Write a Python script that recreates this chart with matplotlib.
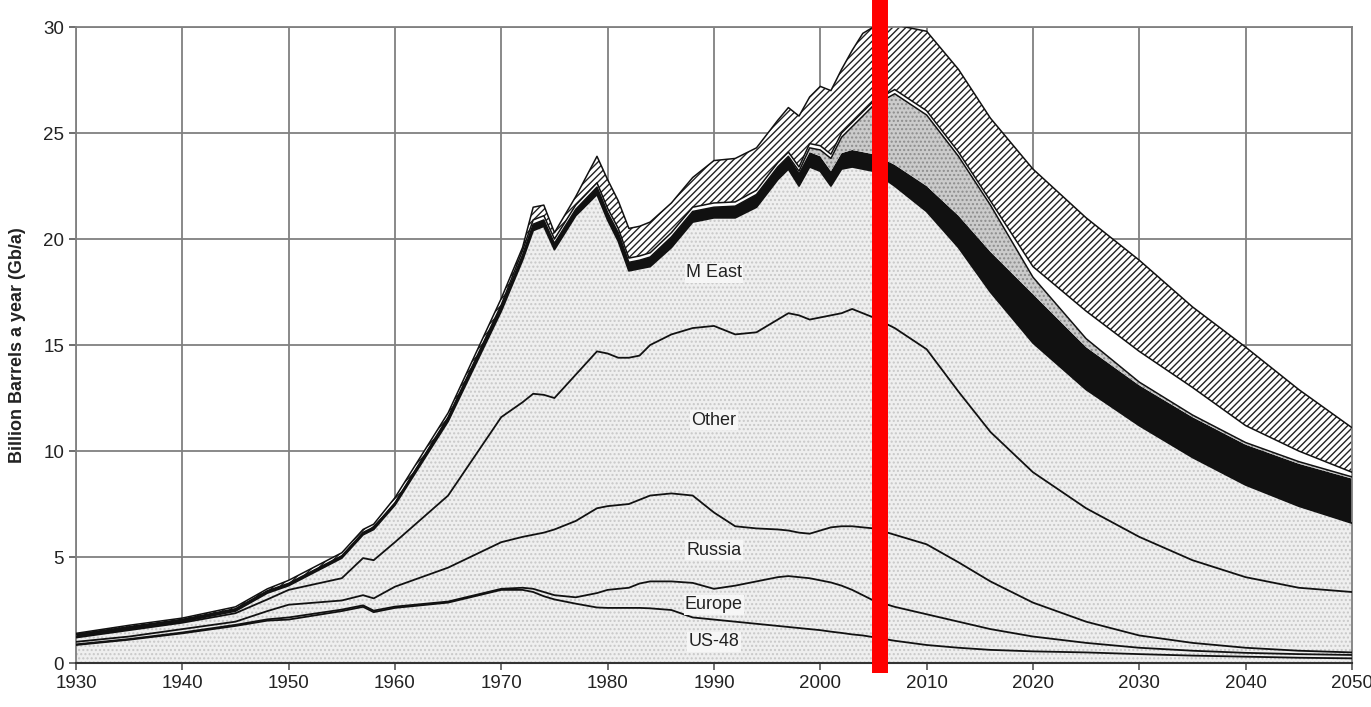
import matplotlib.pyplot as plt

plt.rcParams['font.family'] = ['Liberation Sans', 'DejaVu Sans']
plt.rcParams['hatch.linewidth'] = 1.0

# years
years = [1930, 1935, 1940, 1945, 1948, 1950, 1955, 1957, 1958, 1960,
         1965, 1970, 1972, 1973, 1974, 1975, 1977, 1979, 1980, 1981,
         1982, 1983, 1984, 1986, 1988, 1990, 1992, 1994, 1996, 1997,
         1998, 1999, 2000, 2001, 2002, 2003, 2004, 2005, 2007, 2010,
         2013, 2016, 2020, 2025, 2030, 2035, 2040, 2045, 2050]

# cumulative tops of each stacked layer (Gb/a)
us48_top = [0.85, 1.10, 1.40, 1.75, 2.00, 2.05, 2.45, 2.65, 2.40, 2.60,
            2.85, 3.45, 3.45, 3.35, 3.15, 3.00, 2.80, 2.62, 2.60, 2.60,
            2.60, 2.60, 2.58, 2.50, 2.15, 2.05, 1.95, 1.85, 1.75, 1.70,
            1.65, 1.60, 1.55, 1.48, 1.42, 1.35, 1.30, 1.22, 1.05, 0.85,
            0.72, 0.62, 0.55, 0.50, 0.42, 0.35, 0.30, 0.25, 0.22]
europe_top = [0.88, 1.13, 1.44, 1.80, 2.06, 2.15, 2.52, 2.72, 2.47, 2.66,
              2.90, 3.50, 3.55, 3.50, 3.35, 3.20, 3.10, 3.30, 3.45, 3.50,
              3.55, 3.75, 3.85, 3.85, 3.78, 3.50, 3.65, 3.85, 4.05, 4.10,
              4.05, 4.00, 3.90, 3.80, 3.65, 3.45, 3.20, 2.95, 2.65, 2.30,
              1.95, 1.60, 1.25, 0.95, 0.72, 0.58, 0.48, 0.42, 0.38]
russia_top = [1.00, 1.25, 1.60, 1.95, 2.45, 2.75, 2.95, 3.20, 3.05, 3.60,
              4.50, 5.70, 5.95, 6.05, 6.15, 6.30, 6.70, 7.30, 7.40, 7.45,
              7.50, 7.70, 7.90, 8.00, 7.90, 7.10, 6.45, 6.35, 6.30, 6.25,
              6.15, 6.10, 6.25, 6.40, 6.45, 6.45, 6.40, 6.35, 6.05, 5.60,
              4.75, 3.85, 2.85, 1.95, 1.30, 0.95, 0.72, 0.58, 0.50]
other_top = [1.20, 1.55, 1.90, 2.35, 3.00, 3.45, 4.00, 4.95, 4.85, 5.70,
             7.90, 11.60, 12.30, 12.70, 12.65, 12.50, 13.60, 14.70, 14.60, 14.40,
             14.40, 14.50, 15.00, 15.50, 15.80, 15.90, 15.50, 15.60, 16.20, 16.50,
             16.40, 16.20, 16.30, 16.40, 16.50, 16.70, 16.50, 16.30, 15.80, 14.80,
             12.80, 10.90, 9.00, 7.30, 5.95, 4.85, 4.05, 3.55, 3.35]
mideast_top = [1.25, 1.60, 1.95, 2.45, 3.30, 3.65, 4.95, 6.05, 6.30, 7.45,
               11.40, 16.60, 19.00, 20.40, 20.60, 19.50, 21.10, 22.10, 20.90, 19.90,
               18.50, 18.60, 18.70, 19.60, 20.80, 21.00, 21.00, 21.50, 22.80, 23.30,
               22.50, 23.40, 23.20, 22.50, 23.30, 23.40, 23.30, 23.20, 22.50, 21.30,
               19.60, 17.50, 15.10, 12.90, 11.20, 9.70, 8.40, 7.40, 6.60]
heavy_top = [1.33, 1.68, 2.03, 2.53, 3.38, 3.73, 5.03, 6.13, 6.38, 7.53,
             11.55, 16.80, 19.25, 20.70, 20.90, 19.80, 21.40, 22.45, 21.25, 20.30,
             18.90, 19.00, 19.15, 20.10, 21.30, 21.50, 21.55, 22.10, 23.40, 23.90,
             23.15, 24.10, 23.90, 23.20, 24.05, 24.20, 24.10, 24.00, 23.50, 22.50,
             21.10, 19.40, 17.40, 14.90, 13.10, 11.60, 10.30, 9.40, 8.70]
deepwater_top = [1.33, 1.68, 2.03, 2.53, 3.38, 3.73, 5.03, 6.13, 6.38, 7.53,
                 11.55, 16.80, 19.25, 20.70, 20.90, 19.80, 21.40, 22.45, 21.25, 20.30,
                 18.90, 19.00, 19.15, 20.10, 21.30, 21.50, 21.55, 22.10, 23.40, 23.90,
                 23.20, 24.30, 24.20, 23.80, 24.80, 25.30, 25.80, 26.30, 26.85, 25.85,
                 23.90, 21.60, 18.20, 15.30, 13.25, 11.70, 10.40, 9.50, 8.78]
polar_top = [1.36, 1.71, 2.06, 2.56, 3.41, 3.76, 5.06, 6.16, 6.41, 7.56,
             11.60, 16.90, 19.45, 20.90, 21.10, 20.00, 21.60, 22.65, 21.45, 20.50,
             19.10, 19.20, 19.35, 20.30, 21.50, 21.70, 21.75, 22.30, 23.60, 24.10,
             23.40, 24.50, 24.40, 24.00, 25.00, 25.50, 26.00, 26.50, 27.05, 26.05,
             24.10, 21.80, 18.70, 16.60, 14.70, 13.00, 11.20, 10.00, 9.00]
total_top = [1.40, 1.78, 2.12, 2.65, 3.50, 3.90, 5.20, 6.30, 6.55, 7.80,
             11.80, 17.20, 19.60, 21.50, 21.60, 20.30, 22.00, 23.90, 22.80, 21.80,
             20.50, 20.60, 20.80, 21.70, 22.90, 23.70, 23.80, 24.30, 25.60, 26.20,
             25.80, 26.70, 27.20, 27.00, 28.00, 28.90, 29.70, 30.00, 30.10, 29.80,
             28.00, 25.70, 23.30, 21.00, 19.00, 16.80, 14.90, 12.90, 11.10]

labels = ['US-48', 'Europe', 'Russia', 'Other', 'M East']
label_pos = [(1990, 1.0), (1990, 2.74), (1990, 5.33), (1990, 11.45), (1990, 18.4)]
now_year = 2005.6

fig = plt.figure(figsize=(13.71, 7.07), dpi=100)
ax = fig.add_axes([0.0554, 0.0622, 0.9307, 0.8996])

zero = [0] * len(years)
# regular oil (dotted light grey)
ax.fill_between(years, zero, mideast_top, facecolor='#efefef', edgecolor='#c8c8c8',
                hatch='....', linewidth=0, zorder=2)
# heavy oil (black)
ax.fill_between(years, mideast_top, heavy_top, facecolor='#111111', linewidth=0, zorder=2)
# deepwater (grey)
ax.fill_between(years, heavy_top, deepwater_top, facecolor='#cbcbcb', edgecolor='#8c8c8c',
                hatch='....', linewidth=0, zorder=2)
# polar (white)
ax.fill_between(years, deepwater_top, polar_top, facecolor='white', linewidth=0, zorder=2)
# gas liquids (hatched)
ax.fill_between(years, polar_top, total_top, facecolor='white', edgecolor='#222222',
                hatch='/////', linewidth=0, zorder=2)

for top in [us48_top, europe_top, russia_top, other_top, mideast_top]:
    ax.plot(years, top, color='#111111', lw=1.3, zorder=3)
for top in [deepwater_top, polar_top, total_top]:
    ax.plot(years, top, color='#111111', lw=1.1, zorder=3)

for name, (x, y) in zip(labels, label_pos):
    ax.text(x, y, name, ha='center', va='center', fontsize=13, color='#222222', zorder=4,
            bbox=dict(facecolor='#f6f6f6', edgecolor='none', pad=1.0))

ax.plot([now_year, now_year], [-0.47, 31.3], color='#ff0000', lw=11.5,
        solid_capstyle='butt', clip_on=False, zorder=10)

ax.set_xlim(1930, 2050)
ax.set_ylim(0, 30)
ax.set_xticks(range(1930, 2051, 10))
ax.set_yticks(range(0, 31, 5))
ax.grid(True, color='#808080', lw=1.3)
ax.set_axisbelow(True)
ax.tick_params(labelsize=13.5, labelcolor='#222222', color='#555555', length=5, width=1.2)
for side in ['left', 'right', 'top']:
    ax.spines[side].set_color('#808080')
    ax.spines[side].set_linewidth(1.3)
ax.spines['bottom'].set_color('#333333')
ax.spines['bottom'].set_linewidth(1.5)
ax.set_ylabel('Billion Barrels a year (Gb/a)', fontsize=13, fontweight='bold',
              color='#222222', labelpad=12)

fig.savefig('out.png', dpi=100)
